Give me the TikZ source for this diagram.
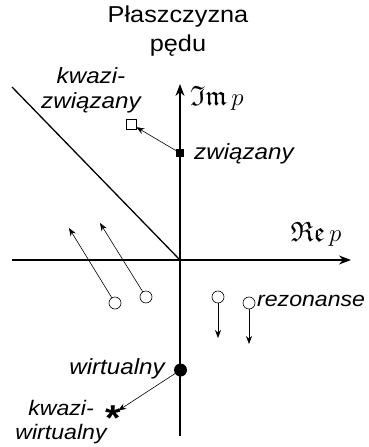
\documentclass[tikz,border=0pt]{standalone}
\usepackage{amssymb}
\usepackage{fontspec}
\setmainfont[FakeStretch=1.1]{Liberation Sans}
\usetikzlibrary{arrows.meta}
\begin{document}
\begin{tikzpicture}[x=1pt,y=-1pt,
  axis/.style={line width=1.3pt},
  thinarrow/.style={line width=0.6pt,-{Stealth[length=8pt,width=6pt]}},
  lbl/.style={font=\fontsize{22}{25}\selectfont\itshape,inner sep=0pt},
  opencirc/.style={circle,draw,fill=white,line width=0.6pt,minimum size=12pt,inner sep=0pt},
  ]
\useasboundingbox (0,0) rectangle (369,447);
% title
\node[font=\fontsize{23}{29}\selectfont,align=center,inner sep=0pt] (title) at (178,31) {Płaszczyzna\\pędu};
% axes
\coordinate (o) at (180,260);
\coordinate (xl) at (12,260);
\coordinate (xr) at (351,260);
\coordinate (yb) at (180,436);
\coordinate (yt) at (180,84);
\coordinate (dg) at (12,87);
\draw[axis] (xl) -- (o);
\draw[axis,-{Stealth[length=12pt,width=9pt]}] (o) -- (xr);
\draw[axis] (yb) -- (o);
\draw[axis,-{Stealth[length=12pt,width=9pt]}] (o) -- (yt);
\draw[axis] (dg) -- (o);
% axis labels
\node[anchor=west,inner sep=0pt,font=\fontsize{28}{30}\selectfont] (im) at (190,98) {$\mathfrak{Im}\,p$};
\node[inner sep=0pt,font=\fontsize{28}{30}\selectfont] (re) at (316,234) {$\mathfrak{Re}\,p$};
% bound state
\node[rectangle,fill=black,minimum size=8pt,inner sep=0pt] (bs) at (180,153) {};
\node[lbl,anchor=west] (bsl) at (194,154) {związany};
\node[rectangle,draw,fill=white,line width=0.6pt,minimum size=10pt,inner sep=0pt] (qb) at (131,124) {};
\draw[thinarrow] (bs) -- (qb);
\node[lbl,align=center] (qbl) at (91,90) {kwazi-\\związany};
% resonances
\node[opencirc] (c1) at (115,303) {};
\node[opencirc] (c2) at (146,297) {};
\node[opencirc] (c3) at (218,297) {};
\node[opencirc] (c4) at (249,303) {};
\coordinate (t1) at (69,228);
\coordinate (t2) at (100,223);
\coordinate (t3) at (218,338);
\coordinate (t4) at (249,344);
\draw[thinarrow] (c1) -- (t1);
\draw[thinarrow] (c2) -- (t2);
\draw[thinarrow] (c3) -- (t3);
\draw[thinarrow] (c4) -- (t4);
\node[lbl,anchor=west,font=\fontsize{21}{25}\selectfont\itshape] (rl) at (257,301) {rezonanse};
% virtual
\node[circle,fill=black,minimum size=13pt,inner sep=0pt] (vs) at (180.5,370) {};
\node[lbl,anchor=east] (vsl) at (165,369) {wirtualny};
\node[circle,inner sep=0pt,minimum size=12pt,font=\fontsize{36}{36}\selectfont\bfseries] (qv) at (113,414) {\makebox[0pt]{\smash{\raisebox{-0.45em}{*}}}};
\draw[thinarrow] (vs) -- (qv);
\node[lbl,align=center,font=\fontsize{21}{24}\selectfont\itshape] (qvl) at (61,422) {kwazi-\\wirtualny};
\end{tikzpicture}
\end{document}
